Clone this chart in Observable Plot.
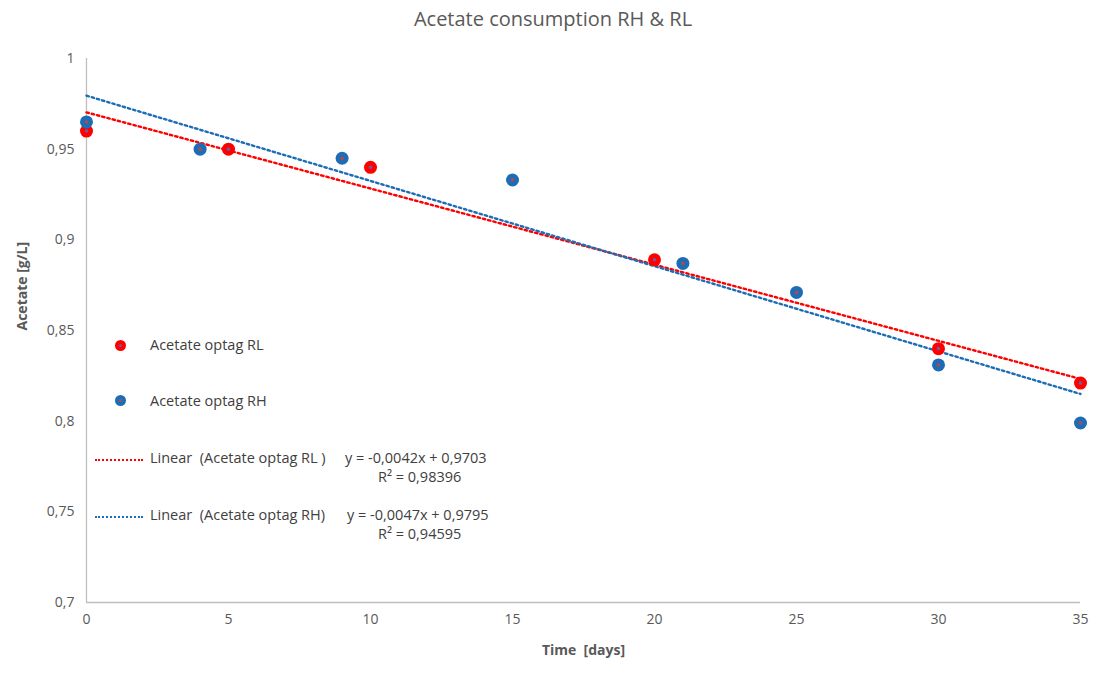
<!DOCTYPE html>
<html>
<head>
<meta charset="utf-8">
<script src="https://cdn.jsdelivr.net/npm/d3@7"></script>
<script src="https://cdn.jsdelivr.net/npm/@observablehq/plot@0.6"></script>
<style>
  html, body { margin: 0; padding: 0; background: #fff; }
  body { width: 1094px; height: 677px; position: relative; overflow: hidden; font-family: "Open Sans", sans-serif; color: #595959; }
  #title { height: 40px; line-height: 38px; text-align: center; font-size: 20px; color: #595959; padding-left: 12px; }
  #legend { position: absolute; left: 0; top: 0; font-size: 14.5px; color: #404040; }
  .li { position: absolute; white-space: nowrap; }
  .dotkey { position: absolute; width: 11px; height: 11px; border-radius: 50%; }
  .dotkey i { position: absolute; left: 4px; top: 4px; width: 3px; height: 3px; border-radius: 50%; }
  .linekey { position: absolute; width: 48px; height: 0; border-top: 2.5px dotted; }
</style>
</head>
<body>
<div id="title">Acetate consumption RH &amp; RL</div>
<div id="chart"></div>
<div id="legend"></div>
<script>
// Data
const timeRL = [0, 5, 10, 20, 30, 35];
const acetateRL = [0.960, 0.950, 0.940, 0.889, 0.840, 0.821];
const timeRH = [0, 4, 9, 15, 21, 25, 30, 35];
const acetateRH = [0.965, 0.950, 0.945, 0.933, 0.887, 0.871, 0.831, 0.799];

// Trendline coefficients printed on the chart
const trendNames = ["Acetate optag RL", "Acetate optag RH"];
const trendSlopes = [-0.0042, -0.0047];
const trendIntercepts = [0.9703, 0.9795];
const trendR2 = ["0,98396", "0,94595"];
const trendRange = [0, 35];

const xTicks = [0, 5, 10, 15, 20, 25, 30, 35];
const yTicks = [0.7, 0.75, 0.8, 0.85, 0.9, 0.95, 1];

const RED = "#ff0000";
const BLUE = "#1c6db5";
const RED_CENTER = "#6b5d9a";
const BLUE_CENTER = "#b5484f";

const rl = timeRL.map((t, i) => ({t, v: acetateRL[i]}));
const rh = timeRH.map((t, i) => ({t, v: acetateRH[i]}));
const trends = [];
trendNames.forEach((n, k) => {
  trendRange.forEach(t => trends.push({series: n, t, v: trendIntercepts[k] + trendSlopes[k] * t}));
});
const trendRL = trends.filter(d => d.series === trendNames[0]);
const trendRH = trends.filter(d => d.series === trendNames[1]);

const fmt = d => String(+d.toFixed(2)).replace(".", ",");

const chart = Plot.plot({
  width: 1094,
  height: 637,
  marginLeft: 86,
  marginRight: 14,
  marginTop: 18,
  marginBottom: 75,
  style: {fontFamily: "'Open Sans', sans-serif", fontSize: "14px", color: "#595959", background: "#fff"},
  x: {domain: [0, 35], ticks: xTicks, tickFormat: d => String(d), tickSize: 0, tickPadding: 12, label: null},
  y: {domain: [0.7, 1], ticks: yTicks, tickFormat: fmt, tickSize: 0, tickPadding: 12, label: null},
  marks: [
    Plot.ruleX([0], {stroke: "#bfbfbf", strokeWidth: 1.3}),
    Plot.ruleY([0.7], {stroke: "#bfbfbf", strokeWidth: 1.3}),
    Plot.line(trendRL, {x: "t", y: "v", stroke: RED, strokeWidth: 2.4, strokeDasharray: "2.4,3"}),
    Plot.line(trendRH, {x: "t", y: "v", stroke: BLUE, strokeWidth: 2.4, strokeDasharray: "2.4,3"}),
    Plot.dot(rl, {x: "t", y: "v", r: 6.5, fill: RED}),
    Plot.dot(rl, {x: "t", y: "v", r: 1.8, fill: RED_CENTER}),
    Plot.dot(rh, {x: "t", y: "v", r: 6.5, fill: BLUE}),
    Plot.dot(rh, {x: "t", y: "v", r: 1.8, fill: BLUE_CENTER}),
    Plot.axisX({ticks: xTicks, tickFormat: d => String(d), tickSize: 0, tickPadding: 12, fill: "#595959", fontSize: 14}),
    Plot.axisY({ticks: yTicks, tickFormat: fmt, tickSize: 0, tickPadding: 12, fill: "#595959", fontSize: 14}),
    Plot.text(["Time  [days]"], {frameAnchor: "bottom", dy: 52, fontWeight: "bold", fontSize: 14, fill: "#595959"}),
    Plot.text(["Acetate [g/L]"], {frameAnchor: "left", dx: -64, rotate: -90, fontWeight: "bold", fontSize: 14, fill: "#595959"})
  ]
});
document.getElementById("chart").appendChild(chart);

// Legend overlay
const legend = document.getElementById("legend");
function add(html) { legend.insertAdjacentHTML("beforeend", html); }
add(`<div class="dotkey" style="left:115px;top:340px;background:${RED}"><i style="background:${RED_CENTER}"></i></div>`);
add(`<div class="li" style="left:150px;top:335px">${trendNames[0]}</div>`);
add(`<div class="dotkey" style="left:115px;top:395px;background:${BLUE}"><i style="background:${BLUE_CENTER}"></i></div>`);
add(`<div class="li" style="left:150px;top:391px">${trendNames[1]}</div>`);
const eq = k => `y = ${String(trendSlopes[k]).replace(".", ",")}x + ${String(trendIntercepts[k]).replace(".", ",")}`;
add(`<div class="linekey" style="left:95px;top:459px;border-color:${RED}"></div>`);
add(`<div class="li" style="left:150px;top:448px">Linear&nbsp; (${trendNames[0]} )</div>`);
add(`<div class="li" style="left:345px;top:448px">${eq(0)}</div>`);
add(`<div class="li" style="left:378px;top:467px">R² = ${trendR2[0]}</div>`);
add(`<div class="linekey" style="left:95px;top:516px;border-color:${BLUE}"></div>`);
add(`<div class="li" style="left:150px;top:505px">Linear&nbsp; (${trendNames[1]})</div>`);
add(`<div class="li" style="left:347px;top:505px">${eq(1)}</div>`);
add(`<div class="li" style="left:378px;top:524px">R² = ${trendR2[1]}</div>`);
</script>
</body>
</html>
